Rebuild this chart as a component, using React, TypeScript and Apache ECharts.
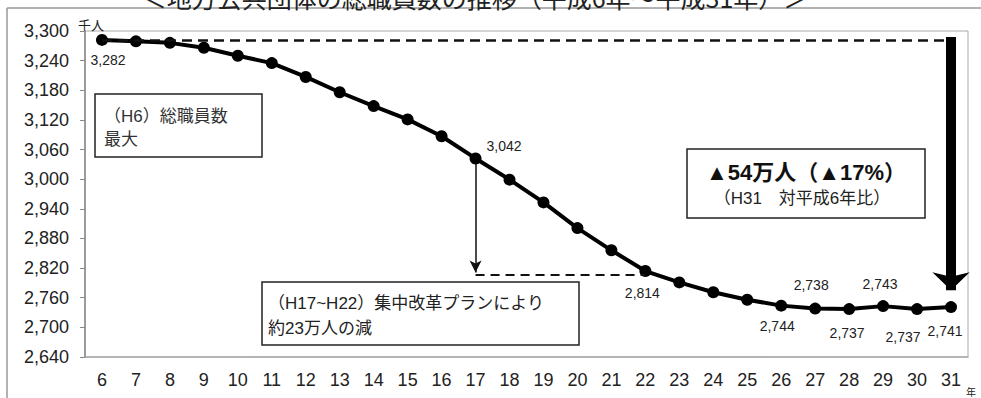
import React, { useEffect, useRef } from 'react';
import * as echarts from 'echarts';

// ---- data ----
const years = ['6','7','8','9','10','11','12','13','14','15','16','17','18','19','20','21','22','23','24','25','26','27','28','29','30','31'];
const staff = [3282, 3279, 3276, 3266, 3250, 3235, 3207, 3176, 3148, 3121, 3087, 3042, 2999, 2953, 2901, 2856, 2814, 2791, 2771, 2756, 2744, 2738, 2737, 2743, 2737, 2741];
const labelledYears = ['6', '17', '22', '26', '27', '28', '29', '30', '31'];
const yMin = 2640;
const yMax = 3300;
const yStep = 60;
const peakYear = '6';
const lastYear = '31';
const planStart = '17';
const planEnd = '22';

const titleText = '＜地方公共団体の総職員数の推移（平成6年～平成31年）＞';
const unitY = '千人';
const unitX = '年';
const note1 = '（H6）総職員数\n最大';
const note2 = '（H17~H22）集中改革プランにより\n約23万人の減';
const note3a = '▲54万人（▲17%）';
const note3b = '（H31　対平成6年比）';

// ---- label placement (styling) ----
const labelPlace: Record<string, { position: string; offset: number[] }> = {
  '6': { position: 'bottom', offset: [6, 2] },
  '17': { position: 'right', offset: [0, -12] },
  '22': { position: 'bottom', offset: [-3, 4] },
  '26': { position: 'bottom', offset: [-4, 2] },
  '27': { position: 'top', offset: [-4, -6] },
  '28': { position: 'bottom', offset: [-2, 6] },
  '29': { position: 'top', offset: [-3, -4] },
  '30': { position: 'bottom', offset: [-14, 10] },
  '31': { position: 'bottom', offset: [-6, 6] },
};

const LAT = 'Liberation Sans, Arial, Noto Sans CJK JP, sans-serif';
const JP = 'Liberation Sans, Arial, Noto Sans CJK JP, sans-serif';
const fmt = (v: number) => v.toLocaleString('en-US');

export default function App() {
  const ref = useRef<HTMLDivElement>(null);
  useEffect(() => {
    if (!ref.current) return;
    const chart = echarts.init(ref.current, null, { renderer: 'svg' });
    const peak = staff[years.indexOf(peakYear)];
    const last = staff[years.indexOf(lastYear)];
    const planStartVal = staff[years.indexOf(planStart)];
    const planEndVal = staff[years.indexOf(planEnd)];

    const seriesData = staff.map((v, i) => {
      const y = years[i];
      const lp = labelPlace[y];
      if (labelledYears.includes(y) && lp) {
        return {
          value: v,
          label: {
            show: true,
            position: lp.position,
            offset: lp.offset,
            formatter: (p: any) => fmt(p.value),
            fontSize: 14,
            color: '#222',
            fontFamily: LAT,
          },
        };
      }
      return { value: v };
    });

    const option: any = {
      animation: false,
      grid: { left: 85, right: 13, top: 31, bottom: 41, show: true, borderColor: '#aaa', borderWidth: 1 },
      xAxis: {
        type: 'category',
        data: years,
        boundaryGap: true,
        axisLine: { show: true, lineStyle: { color: '#aaa', width: 1.5 } },
        axisTick: { show: false },
        axisLabel: { fontSize: 18, color: '#222', margin: 14, fontFamily: LAT, interval: 0 },
        splitLine: { show: false },
      },
      yAxis: {
        type: 'value',
        min: yMin,
        max: yMax,
        interval: yStep,
        axisLine: { show: true, lineStyle: { color: '#888', width: 1.5 } },
        axisTick: { show: true, inside: false, length: 5, lineStyle: { color: '#888', width: 1 } },
        axisLabel: { fontSize: 18, color: '#222', margin: 16, fontFamily: LAT, formatter: (v: number) => fmt(v) },
        splitLine: { show: false },
      },
      series: [
        {
          type: 'line',
          data: seriesData,
          symbol: 'circle',
          symbolSize: 12,
          itemStyle: { color: '#000' },
          lineStyle: { color: '#000', width: 4 },
          z: 3,
          markLine: {
            silent: true,
            animation: false,
            label: { show: false },
            symbol: ['none', 'none'],
            data: [
              [
                { coord: [peakYear, peak], symbol: 'none', lineStyle: { color: '#111', width: 2.5, type: [10, 6] } },
                { coord: [lastYear, peak], symbol: 'none' },
              ],
              [
                { coord: [lastYear, peak + 6], symbol: 'none', lineStyle: { color: '#000', width: 10, type: 'solid' } },
                { coord: [lastYear, last + 34], symbol: 'arrow', symbolSize: [28, 18] },
              ],
              [
                { coord: [planStart, planStartVal - 10], symbol: 'none', lineStyle: { color: '#111', width: 1.5, type: 'solid' } },
                { coord: [planStart, planEndVal - 3], symbol: 'arrow', symbolSize: [9, 12] },
              ],
              [
                { coord: [planStart, planEndVal - 8], symbol: 'none', lineStyle: { color: '#111', width: 2, type: [9, 6] } },
                { coord: [planEnd, planEndVal - 8], symbol: 'none' },
              ],
            ],
          },
        },
      ],
      graphic: [
        // outer frame
        { type: 'line', shape: { x1: 7, y1: 8, x2: 981, y2: 8 }, style: { stroke: '#999', lineWidth: 1.5 }, silent: true },
        { type: 'line', shape: { x1: 7, y1: 8, x2: 7, y2: 398 }, style: { stroke: '#999', lineWidth: 1.5 }, silent: true },
        // title (cut off at top, as in the reference)
        { type: 'text', x: 475, y: -3, style: { text: titleText, fontSize: 25, fontFamily: 'Noto Sans CJK JP, sans-serif', fill: '#222', textAlign: 'center', textVerticalAlign: 'middle' }, silent: true },
        // unit labels
        { type: 'text', x: 78, y: 18, style: { text: unitY, fontSize: 13, fontFamily: 'Noto Sans CJK JP, sans-serif', fill: '#222', textAlign: 'left', textVerticalAlign: 'top' }, silent: true },
        { type: 'text', x: 966, y: 386, style: { text: unitX, fontSize: 10, fontFamily: 'Noto Sans CJK JP, sans-serif', fill: '#222', textAlign: 'left', textVerticalAlign: 'top' }, silent: true },
        // note 1
        { type: 'rect', shape: { x: 95, y: 94, width: 167, height: 63 }, style: { fill: '#fff', stroke: '#222', lineWidth: 1.5 }, silent: true, z: 10 },
        { type: 'text', x: 104, y: 105, z: 11, style: { text: note1, fontSize: 17, lineHeight: 23, fontFamily: JP, fill: '#333', textAlign: 'left', textVerticalAlign: 'top' }, silent: true },
        // note 2
        { type: 'rect', shape: { x: 262, y: 282, width: 317, height: 63 }, style: { fill: '#fff', stroke: '#222', lineWidth: 1.5 }, silent: true, z: 10 },
        { type: 'text', x: 268, y: 291, z: 11, style: { text: note2, fontSize: 17, lineHeight: 25, fontFamily: JP, fill: '#222', textAlign: 'left', textVerticalAlign: 'top' }, silent: true },
        // note 3
        { type: 'rect', shape: { x: 687, y: 149, width: 238, height: 69 }, style: { fill: '#fff', stroke: '#222', lineWidth: 1.5 }, silent: true, z: 10 },
        { type: 'text', x: 806, y: 172, z: 11, style: { text: note3a, fontSize: 22, fontWeight: 'bold', fontFamily: JP, fill: '#111', textAlign: 'center', textVerticalAlign: 'middle' }, silent: true },
        { type: 'text', x: 802, y: 198, z: 11, style: { text: note3b, fontSize: 17, fontFamily: JP, fill: '#222', textAlign: 'center', textVerticalAlign: 'middle' }, silent: true },
      ],
    };
    chart.setOption(option);
    return () => chart.dispose();
  }, []);
  return <div ref={ref} style={{ position: 'absolute', left: 0, top: 0, width: 981, height: 398, background: '#fff' }} />;
}
